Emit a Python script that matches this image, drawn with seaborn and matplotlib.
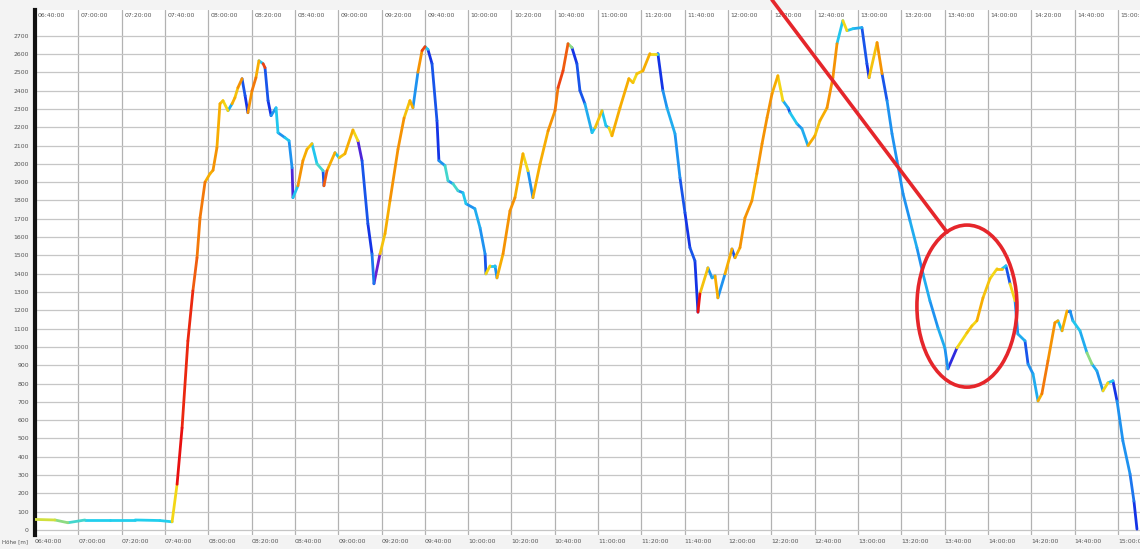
import numpy as np
import pandas as pd
import seaborn as sns
import matplotlib.pyplot as plt
from matplotlib.colors import LinearSegmentedColormap
from matplotlib.patches import Ellipse

# minutes after 06:40, altitude in m, colour value (0 = purple/blue ... 1 = red)
minutes = [0, 9.2, 15.2, 23.1, 34.6, 46.2, 57.7, 63.3, 65.6, 67.9, 70.6, 72.9, 74.8, 76.2, 78.5, 80.8,
           82.2, 84.0, 85.4, 86.8, 89.1, 91.0, 92.3, 93.7, 95.6, 97.0, 98.3, 100.2, 102.0, 103.4, 105.3,
           106.2, 107.6, 109.0, 111.3, 112.2, 115.4, 117.3, 118.7, 119.1, 121.4, 123.7, 125.6, 127.9,
           130.2, 133.0, 133.4, 134.8, 138.5, 140.4, 143.1, 146.8, 149.1, 151.0, 153.7, 155.6, 156.5,
           159.3, 161.6, 163.9, 167.6, 170.4, 173.1, 174.5, 176.8, 178.7, 180.1, 181.4, 183.3, 185.6,
           186.5, 189.3, 190.7, 193.0, 195.3, 197.6, 199.0, 203.1, 205.5, 207.8, 208.2, 210.1, 212.4,
           213.3, 216.1, 219.3, 221.6, 225.3, 227.6, 229.9, 233.2, 236.9, 240.1, 241.5, 243.8, 246.1,
           247.9, 250.2, 251.6, 253.9, 257.2, 258.6, 261.8, 263.6, 265.0, 266.4, 270.1, 274.2, 276.1,
           277.9, 280.7, 283.9, 286.7, 287.6, 289.9, 291.8, 295.5, 297.8, 300.1, 302.4, 304.7, 306.1,
           307.0, 310.7, 312.6, 314.0, 315.3, 318.6, 321.8, 323.2, 325.5, 327.8, 331.0, 333.3, 335.7,
           338.0, 340.3, 343.0, 345.3, 347.7, 348.6, 351.8, 354.1, 356.9, 360.1, 362.4, 365.7, 368.4,
           370.3, 373.0, 374.9, 377.7, 381.8, 384.1, 385.1, 388.8, 391.1, 393.4, 395.7, 398.0, 400.8,
           404.0, 407.2, 410.0, 413.2, 416.9, 420.1, 421.5, 425.7, 430.3, 432.6, 434.9, 437.7, 440.9,
           444.2, 446.5, 448.3, 450.2, 452.5, 453.8, 457.1, 458.5, 460.8, 463.1, 464.9, 467.7, 470.9,
           472.3, 474.2, 476.5, 477.9, 479.2, 482.5, 485.7, 488.0, 490.3, 493.1, 495.4, 497.7, 499.6,
           502.3, 505.6, 507.4, 508.8]
altitude = [58, 55, 40, 55, 55, 55, 52, 45, 250, 558, 1033, 1306, 1487, 1705, 1900, 1946,
            1965, 2088, 2328, 2345, 2290, 2328, 2361, 2416, 2465, 2372, 2279, 2399, 2470, 2563, 2547,
            2525, 2345, 2263, 2306, 2170, 2143, 2126, 1978, 1815, 1880, 2017, 2080, 2110,
            2000, 1962, 1880, 1962, 2061, 2033, 2055, 2185, 2126, 2017, 1673, 1508, 1345,
            1508, 1618, 1798, 2080, 2250, 2345, 2306, 2500, 2618, 2640, 2625, 2547, 2235,
            2017, 1990, 1908, 1891, 1853, 1842, 1782, 1755, 1650, 1508, 1399, 1443, 1443,
            1377, 1508, 1743, 1815, 2055, 1962, 1815, 2000, 2180, 2290, 2416, 2508, 2656,
            2635, 2547, 2400, 2328, 2170, 2197, 2290, 2208, 2197, 2153, 2306, 2465, 2443,
            2492, 2508, 2602, 2602, 2602, 2400, 2306, 2164, 1924, 1733, 1542, 1470, 1190,
            1290, 1432, 1377, 1388, 1268, 1399, 1535, 1487, 1542, 1705, 1798, 1946, 2110,
            2252, 2383, 2481, 2345, 2306, 2279, 2219, 2192, 2099, 2153, 2235, 2306, 2470,
            2656, 2782, 2727, 2738, 2744, 2547, 2470, 2662, 2492, 2345, 2164, 2017, 1836,
            1689, 1542, 1399, 1252, 1105, 995, 880, 995, 1077, 1115, 1143, 1268, 1372,
            1427, 1427, 1443, 1345, 1252, 1071, 1033, 907, 853, 705, 744, 924, 1132,
            1143, 1088, 1197, 1197, 1143, 1088, 968, 907, 869, 760, 804, 815, 705,
            487, 306, 158, 5]
speed = [0.55, 0.5, 0.45, 0.42, 0.42, 0.42, 0.42, 0.6, 1.0, 0.95, 0.95, 0.85, 0.8, 0.8, 0.7, 0.7,
         0.75, 0.7, 0.65, 0.6, 0.35, 0.7, 0.65, 0.75, 0.2, 0.15, 0.75, 0.8, 0.7, 0.4, 0.9,
         0.2, 0.15, 0.3, 0.4, 0.3, 0.4, 0.3, 0.05, 0.4, 0.75, 0.7, 0.65, 0.4,
         0.45, 0.2, 0.85, 0.7, 0.4, 0.65, 0.7, 0.6, 0.05, 0.2, 0.15, 0.25, 0.0,
         0.65, 0.7, 0.75, 0.75, 0.65, 0.7, 0.3, 0.75, 0.9, 0.4, 0.15, 0.2, 0.15,
         0.3, 0.45, 0.3, 0.45, 0.3, 0.4, 0.3, 0.35, 0.3, 0.2, 0.6, 0.4, 0.3,
         0.7, 0.75, 0.75, 0.7, 0.6, 0.3, 0.7, 0.7, 0.75, 0.8, 0.9, 0.85, 0.5,
         0.15, 0.2, 0.2, 0.35, 0.4, 0.65, 0.4, 0.35, 0.6, 0.7, 0.7, 0.65, 0.6,
         0.65, 0.7, 0.6, 0.4, 0.15, 0.3, 0.35, 0.3, 0.2, 0.15, 0.2, 0.15, 1.0,
         0.65, 0.3, 0.35, 0.7, 0.3, 0.7, 0.2, 0.7, 0.75, 0.75, 0.7, 0.75, 0.75,
         0.75, 0.7, 0.6, 0.35, 0.2, 0.4, 0.3, 0.35, 0.7, 0.65, 0.7, 0.75, 0.75,
         0.4, 0.6, 0.4, 0.35, 0.2, 0.15, 0.65, 0.75, 0.2, 0.3, 0.3, 0.3, 0.3,
         0.35, 0.3, 0.35, 0.3, 0.35, 0.3, 0.1, 0.6, 0.65, 0.6, 0.7, 0.65, 0.6,
         0.65, 0.4, 0.2, 0.6, 0.3, 0.35, 0.2, 0.3, 0.35, 0.7, 0.8, 0.75, 0.7,
         0.4, 0.7, 0.2, 0.3, 0.4, 0.35, 0.5, 0.35, 0.3, 0.6, 0.4, 0.15, 0.3,
         0.3, 0.25, 0.15, 0.5]

time_labels = ["06:40:00", "07:00:00", "07:20:00", "07:40:00", "08:00:00", "08:20:00", "08:40:00",
               "09:00:00", "09:20:00", "09:40:00", "10:00:00", "10:20:00", "10:40:00", "11:00:00",
               "11:20:00", "11:40:00", "12:00:00", "12:20:00", "12:40:00", "13:00:00", "13:20:00",
               "13:40:00", "14:00:00", "14:20:00", "14:40:00", "15:00:00"]
alt_ticks = list(range(0, 2800, 100))

# build one small two-point line per segment so each can get its own colour
rows = []
for i in range(len(minutes) - 1):
    rows.append((minutes[i], altitude[i], i, speed[i]))
    rows.append((minutes[i + 1], altitude[i + 1], i, speed[i]))
df = pd.DataFrame(rows, columns=["t", "alt", "seg", "c"])

cmap = LinearSegmentedColormap.from_list(
    "track", ["#6a1fd0", "#1430e6", "#1e8cf0", "#22d4ee", "#f2e21c", "#f7a800", "#f05a10", "#e81010"])

sns.set_style("white")
plt.rcParams['font.family'] = ['DejaVu Sans']

fig = plt.figure(figsize=(11.4, 5.49), dpi=100)
fig.patch.set_facecolor("#f3f3f3")
ax = fig.add_axes([35 / 1140, 14 / 549, 1 - 35 / 1140, 1 - 24 / 549])
ax.set_facecolor("white")

sns.lineplot(data=df, x="t", y="alt", hue="c", units="seg", estimator=None,
             palette=cmap, hue_norm=(0, 1), legend=False, lw=2.0,
             solid_capstyle="round", ax=ax, zorder=3)

ax.set_xlim(0, 510.2)
ax.set_ylim(-27, 2840)

xt = [20 * i for i in range(len(time_labels))]
ax.set_xticks(xt)
ax.set_xticklabels(time_labels, fontsize=4.4, color="#555555", ha="left")
ax.tick_params(axis="x", length=0, pad=3)
# the last label is cut by the right edge, as in the original
for x, lab in zip(xt, time_labels):
    ax.text(x + 1.2, 2812, lab, fontsize=4.4, color="#555555", ha="left", va="center")

ax.set_yticks(alt_ticks)
ax.set_yticklabels([str(v) for v in alt_ticks], fontsize=4.4, color="#555555")
ax.tick_params(axis="y", length=2.5, width=0.6, pad=2, colors="#555555")

ax.grid(True, axis="y", color="#c6c6c6", lw=0.9)
ax.grid(True, axis="x", color="#b2b2b2", lw=0.9)
ax.set_axisbelow(True)
for s in ["top", "right", "bottom"]:
    ax.spines[s].set_visible(False)
ax.spines["left"].set_color("#111111")
ax.spines["left"].set_linewidth(3)
ax.set_xlabel("")
ax.set_ylabel("")

fig.text(0.002, 0.008, "Höhe [m]", fontsize=4, color="#555555", ha="left", va="bottom")

# red marking
red = "#e5262b"
ax.add_patch(Ellipse((430.3, 1223), 46.2, 885, fill=False, ec=red, lw=2.6, zorder=5))
ax.plot([340.3, 421.1], [2895, 1627], color=red, lw=2.6, clip_on=False, zorder=5)

fig.savefig("out.png", dpi=100, facecolor=fig.get_facecolor())
